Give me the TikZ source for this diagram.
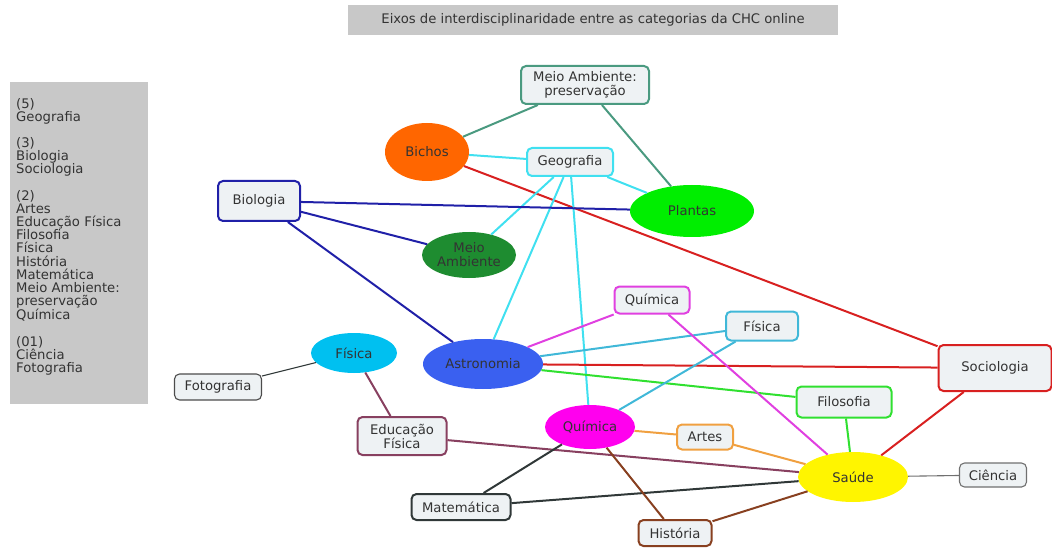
\documentclass[tikz,border=0pt]{standalone}
\usepackage{fontspec}
\setmainfont{DejaVu Sans}
\usetikzlibrary{shapes.geometric}
\definecolor{boxfill}{HTML}{EEF2F4}
\definecolor{graybg}{HTML}{C8C8C8}
\definecolor{teal}{HTML}{4A9A80}
\definecolor{cyanl}{HTML}{40E0F0}
\definecolor{bluel}{HTML}{2020A8}
\definecolor{redl}{HTML}{D82020}
\definecolor{magl}{HTML}{E040E0}
\definecolor{fisl}{HTML}{40B8D8}
\definecolor{greenl}{HTML}{30E030}
\definecolor{purl}{HTML}{884060}
\definecolor{orl}{HTML}{F0A040}
\definecolor{grayl}{HTML}{303838}
\definecolor{brownl}{HTML}{884020}
\definecolor{ciel}{HTML}{707070}
\tikzset{
  x=1pt, y=-1pt,
  every node/.style={font=\fontsize{13.2}{14}\selectfont, text=black!80},
  rbox/.style={draw, line width=2pt, rounded corners=5pt, fill=boxfill, align=center, inner sep=0pt},
  ell/.style={ellipse, draw=none, align=center, inner sep=0pt},
  edge/.style={line width=2pt},
  thin edge/.style={line width=1.1pt},
}
\begin{document}
\begin{tikzpicture}
\useasboundingbox (0,0) rectangle (1052,548);
% title
\node[fill=graybg, minimum width=490pt, minimum height=30pt, inner sep=0pt] (title) at (593,20) {Eixos de interdisciplinaridade entre as categorias da CHC online};
% legend
\node[fill=graybg, minimum width=138pt, minimum height=322pt, inner sep=0pt] (legbg) at (79,243) {};
\node[anchor=north west, align=left, inner sep=0pt, font=\fontsize{13.2}{13.15}\selectfont] (leg) at (16,98) {(5)\\Geografia\\[13.15pt](3)\\Biologia\\Sociologia\\[13.15pt](2)\\Artes\\Educação Física\\Filosofia\\Física\\História\\Matemática\\Meio Ambiente:\\preservação\\Química\\[13.15pt](01)\\Ciência\\Fotografia};
% nodes
\node[rbox, draw=teal, minimum width=128pt, minimum height=38pt] (map) at (585,85) {Meio Ambiente:\\preservação};
\node[ell, fill={rgb,255:red,255;green,102;blue,0}, minimum width=84pt, minimum height=58pt] (bichos) at (427,152) {Bichos};
\node[rbox, draw=cyanl, minimum width=86pt, minimum height=28pt] (geo) at (570,162) {Geografia};
\node[rbox, draw=bluel, minimum width=82pt, minimum height=40pt] (bio) at (259,201) {Biologia};
\node[ell, fill={rgb,255:red,0;green,238;blue,0}, minimum width=124pt, minimum height=52pt] (plantas) at (692,211) {Plantas};
\node[ell, fill={rgb,255:red,30;green,140;blue,48}, minimum width=94pt, minimum height=46pt] (ma) at (469,255) {Meio\\Ambiente};
\node[rbox, draw=magl, minimum width=75pt, minimum height=27pt] (quir) at (652,300) {Química};
\node[rbox, draw=fisl, minimum width=72pt, minimum height=29pt] (fisr) at (762,326) {Física};
\node[ell, fill={rgb,255:red,0;green,192;blue,240}, minimum width=86pt, minimum height=40pt] (fise) at (354,353) {Física};
\node[ell, fill={rgb,255:red,58;green,96;blue,240}, minimum width=120pt, minimum height=50pt] (astro) at (483,364) {Astronomia};
\node[rbox, draw=redl, minimum width=113pt, minimum height=46pt] (soc) at (995,368) {Sociologia};
\node[rbox, draw=black!70, line width=1.1pt, minimum width=87pt, minimum height=26pt] (foto) at (218,387) {Fotografia};
\node[rbox, draw=greenl, minimum width=95pt, minimum height=31pt] (filo) at (844,402) {Filosofia};
\node[rbox, draw=purl, minimum width=89pt, minimum height=38pt] (edf) at (402,436) {Educação\\Física};
\node[ell, fill={rgb,255:red,255;green,0;blue,238}, minimum width=90pt, minimum height=44pt] (quie) at (590,427) {Química};
\node[rbox, draw=orl, minimum width=56pt, minimum height=25pt] (artes) at (705,437) {Artes};
\node[ell, fill={rgb,255:red,255;green,245;blue,0}, minimum width=110pt, minimum height=50pt] (saude) at (853,477) {Saúde};
\node[rbox, draw=ciel, line width=1.1pt, minimum width=67pt, minimum height=24pt] (cie) at (993,475) {Ciência};
\node[rbox, draw=grayl, minimum width=99pt, minimum height=26pt] (mat) at (461,507) {Matemática};
\node[rbox, draw=brownl, minimum width=73pt, minimum height=26pt] (hist) at (675,533) {História};
% edges
\draw[edge, teal] (map) -- (bichos);
\draw[edge, teal] (map) -- (plantas);
\draw[edge, cyanl] (bichos) -- (geo);
\draw[edge, redl] (bichos) -- (soc);
\draw[edge, cyanl] (geo) -- (plantas);
\draw[edge, cyanl] (geo) -- (ma);
\draw[edge, cyanl] (geo) -- (astro);
\draw[edge, cyanl] (geo) -- (quie);
\draw[edge, bluel] (bio) -- (plantas);
\draw[edge, bluel] (bio) -- (ma);
\draw[edge, bluel] (bio) -- (astro);
\draw[edge, magl] (astro) -- (quir);
\draw[edge, fisl] (astro) -- (fisr);
\draw[edge, redl] (astro) -- (soc);
\draw[edge, greenl] (astro) -- (filo);
\draw[edge, fisl] (fisr) -- (quie);
\draw[edge, magl] (quir) -- (saude);
\draw[edge, greenl] (filo) -- (saude);
\draw[edge, redl] (soc) -- (saude);
\draw[thin edge, grayl] (fise) -- (foto);
\draw[edge, purl] (fise) -- (edf);
\draw[edge, purl] (edf) -- (saude);
\draw[edge, orl] (quie) -- (artes);
\draw[edge, orl] (artes) -- (saude);
\draw[edge, grayl] (quie) -- (mat);
\draw[edge, grayl] (mat) -- (saude);
\draw[edge, brownl] (quie) -- (hist);
\draw[edge, brownl] (hist) -- (saude);
\draw[thin edge, ciel] (saude) -- (cie);
\end{tikzpicture}
\end{document}
